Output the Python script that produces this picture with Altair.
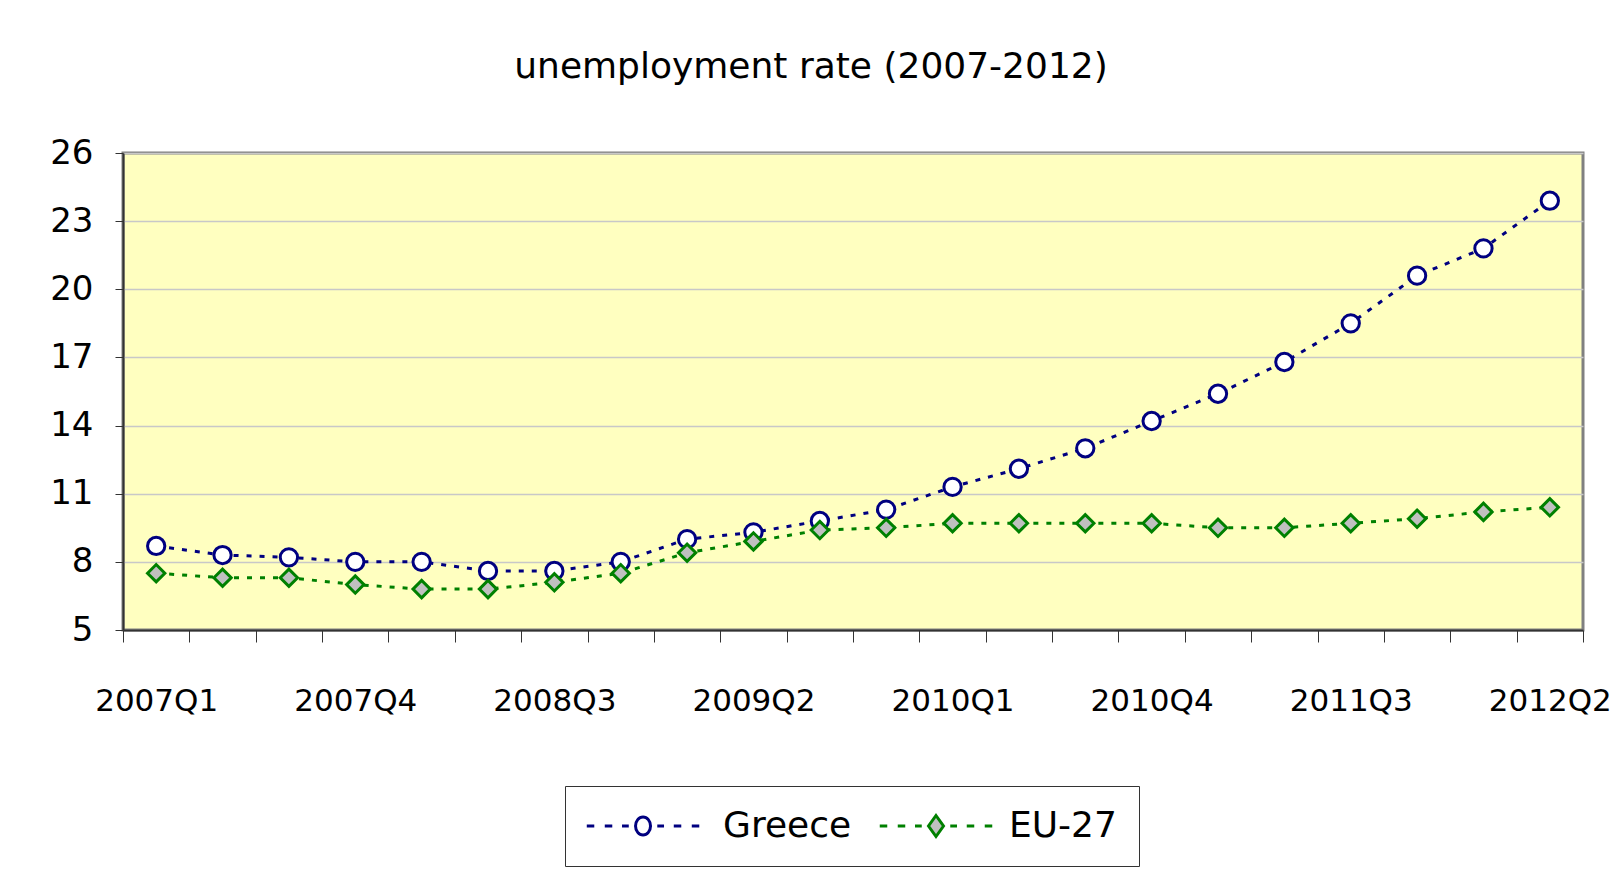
import json
import altair as alt
import pandas as pd

quarters = ["2007Q1", "2007Q2", "2007Q3", "2007Q4", "2008Q1", "2008Q2", "2008Q3", "2008Q4",
            "2009Q1", "2009Q2", "2009Q3", "2009Q4", "2010Q1", "2010Q2", "2010Q3", "2010Q4",
            "2011Q1", "2011Q2", "2011Q3", "2011Q4", "2012Q1", "2012Q2"]
greece = [8.7, 8.3, 8.2, 8.0, 8.0, 7.6, 7.6, 8.0, 9.0, 9.3, 9.8, 10.3,
          11.3, 12.1, 13.0, 14.2, 15.4, 16.8, 18.5, 20.6, 21.8, 23.9]
eu27 = [7.5, 7.3, 7.3, 7.0, 6.8, 6.8, 7.1, 7.5, 8.4, 8.9, 9.4, 9.5,
        9.7, 9.7, 9.7, 9.7, 9.5, 9.5, 9.7, 9.9, 10.2, 10.4]
series_names = ["Greece", "EU-27"]
shown_labels = ["2007Q1", "2007Q4", "2008Q3", "2009Q2", "2010Q1", "2010Q4", "2011Q3", "2012Q2"]
y_ticks = [5, 8, 11, 14, 17, 20, 23, 26]

stroke_colors = ["#000080", "#008000"]
fill_colors = ["#FFFFFF", "#C0C0C0"]
FONT = "DejaVu Sans"

df = pd.DataFrame({
    "quarter": quarters * 2,
    "rate": greece + eu27,
    "series": ["Greece"] * len(quarters) + ["EU-27"] * len(quarters),
})

label_expr = "(" + " || ".join("datum.label == " + json.dumps(l) for l in shown_labels) + \
    ") ? datum.label : ''"

x_enc = alt.X(
    "quarter:N", sort=quarters, bandPosition=0.5,
    scale=alt.Scale(type="band", paddingInner=0, paddingOuter=0),
    axis=alt.Axis(title=None, labelAngle=0, tickBand="extent", labelExpr=label_expr,
                  labelOverlap=False, labelBound=False, labelFont=FONT, labelFontSize=31,
                  labelColor="black", labelPadding=44, tickSize=12, tickColor="#333333",
                  domainColor="#333333", domainWidth=2, grid=False),
)
y_enc = alt.Y(
    "rate:Q",
    scale=alt.Scale(domain=[5, 26], nice=False, zero=False),
    axis=alt.Axis(title=None, values=y_ticks, labelFont=FONT, labelFontSize=34,
                  labelColor="black", labelPadding=22, tickSize=8, tickColor="#333333",
                  domainColor="#333333", domainWidth=2, grid=True, gridColor="#C8C8C8",
                  gridWidth=1.5),
)

stroke_scale = alt.Scale(domain=series_names, range=stroke_colors)
fill_scale = alt.Scale(domain=series_names, range=fill_colors)

lines = alt.Chart(df).mark_line(strokeWidth=3, strokeDash=[5, 8]).encode(
    x=x_enc, y=y_enc,
    stroke=alt.Stroke("series:N", scale=stroke_scale, legend=None),
    detail="series:N",
)

points = alt.Chart(df).mark_point(filled=True, size=300, strokeWidth=3, opacity=1).encode(
    x=x_enc, y=y_enc,
    stroke=alt.Stroke("series:N", scale=stroke_scale, legend=None),
    fill=alt.Fill("series:N", scale=fill_scale, legend=None),
    shape=alt.Shape("series:N", scale=alt.Scale(domain=series_names, range=["circle", "diamond"]),
                    legend=None),
)

# legend glyphs: dashed line with the marker in the middle (unit = 7.5 px), shifted right
def dashes(s):
    return "".join("M%.2f,0L%.2f,0" % (s + a, s + b)
                   for a, b in [(-7.5, -6.5), (-5.1, -4.1), (-2.8, -1.9),
                                (1.9, 2.8), (4.1, 5.1), (6.5, 7.5)])

SG = 5.07
SE = 6.0
greece_sym = dashes(SG) + "M%.2f,-1.2A1,1.2,0,1,1,%.2f,1.2A1,1.2,0,1,1,%.2f,-1.2Z" % (SG, SG, SG)
eu_sym = dashes(SE) + "M%.2f,-1.4L%.2f,0L%.2f,1.4L%.2f,0Z" % (SE, SE + 1, SE, SE - 1)

legend = alt.Legend(orient="none", legendX=442, legendY=633, direction="horizontal",
                    title=None, labelFont=FONT, labelFontSize=36, labelColor="black",
                    symbolSize=225, symbolStrokeWidth=3, labelOffset=100, columnPadding=21,
                    padding=22, strokeColor="#333333", fillColor="white")

legend_layer = alt.Chart(df).transform_filter("datum.rate < 0").mark_point(
    filled=True, size=225, strokeWidth=3, opacity=1).encode(
    x=x_enc, y=y_enc,
    stroke=alt.Stroke("series:N", scale=alt.Scale(domain=series_names, range=stroke_colors),
                      legend=legend),
    fill=alt.Fill("series:N", scale=alt.Scale(domain=series_names, range=fill_colors),
                  legend=legend),
    shape=alt.Shape("series:N", scale=alt.Scale(domain=series_names, range=[greece_sym, eu_sym]),
                    legend=legend),
)

chart = alt.layer(lines, points, legend_layer).resolve_scale(
    stroke="independent", fill="independent", shape="independent"
).properties(
    width=1460, height=477,
    padding={"left": 115, "top": 145, "right": 30, "bottom": 240},
    autosize=alt.AutoSizeParams(type="none"),
    background="white",
    title=alt.TitleParams("unemployment rate (2007-2012)", font=FONT, fontSize=36,
                          fontWeight="normal", color="black", anchor="middle", dx=-42,
                          baseline="bottom", offset=14),
).configure_view(stroke="#808080", strokeWidth=3, fill="#FFFFC0")

chart.save("out.html", embed_options={"renderer": "svg", "actions": False})
